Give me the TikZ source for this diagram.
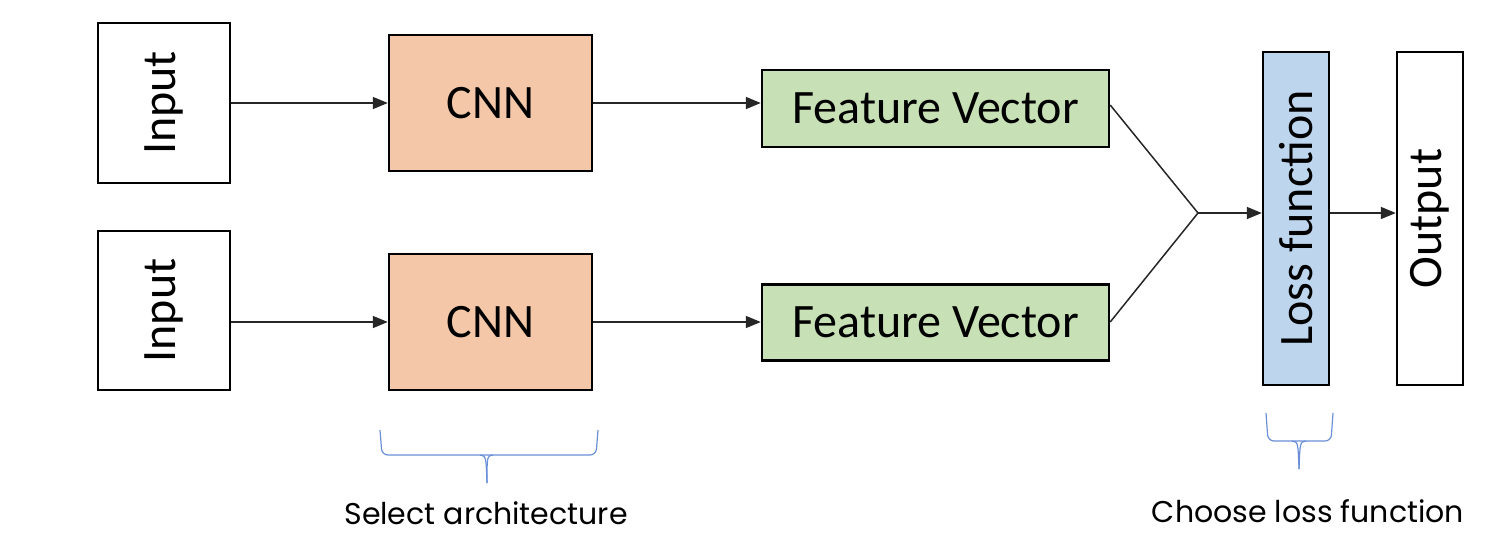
\documentclass[tikz,border=0pt]{standalone}
\usepackage{fontspec}
\setmainfont{Carlito}
\newfontfamily\capfont{Poppins}
\usetikzlibrary{arrows.meta}
\definecolor{cnnfill}{HTML}{F4C7A8}
\definecolor{fvfill}{HTML}{C7E0B5}
\definecolor{lossfill}{HTML}{BDD6EE}
\definecolor{bracecol}{HTML}{6A8FD8}
\tikzset{
  box/.style={draw=black, line width=2.4pt, inner sep=0pt, font=\fontsize{48}{52}\selectfont},
  vbox/.style={box, rotate=90},
  conn/.style={line width=1.5pt, draw=black!85},
  arr/.style={conn, -{Triangle[length=15pt,width=12pt]}},
  bracep/.style={draw=bracecol, line width=1.2pt, rounded corners=6pt},
  captext/.style={font=\capfont\fontsize{30}{34}\selectfont, inner sep=0pt}
}
\begin{document}
\begin{tikzpicture}[x=1pt,y=-1pt]
\useasboundingbox (0,0) rectangle (1485,544);
% inputs (rotated: width along y)
\node[vbox, minimum width=160pt, minimum height=132pt] (in1) at (164,103) {Input};
\node[vbox, minimum width=159pt, minimum height=132pt] (in2) at (164,310.5) {Input};
% CNNs
\node[box, fill=cnnfill, minimum width=203pt, minimum height=136pt] (cnn1) at (490.5,103) {CNN};
\node[box, fill=cnnfill, minimum width=203pt, minimum height=136pt] (cnn2) at (490.5,322) {CNN};
% feature vectors
\node[box, fill=fvfill, minimum width=347pt, minimum height=77pt] (fv1) at (935.5,108.5) {Feature Vector};
\node[box, fill=fvfill, minimum width=347pt, minimum height=76pt] (fv2) at (935.5,322.5) {Feature Vector};
% loss and output
\node[vbox, fill=lossfill, minimum width=333pt, minimum height=66pt] (loss) at (1296,218.5) {Loss function};
\node[vbox, minimum width=333pt, minimum height=66pt] (out) at (1430,218.5) {Output};
% connectors
\draw[arr] (in1.south |- 0,103) -- (cnn1.west |- 0,103);
\draw[arr] (in2.south |- 0,322) -- (cnn2.west);
\draw[arr] (cnn1.east) -- (fv1.west |- 0,103);
\draw[arr] (cnn2.east) -- (fv2.west |- 0,322);
\coordinate (m) at (1198,213);
\draw[conn] (fv1.east |- 0,105) -- (m);
\draw[conn] (fv2.east |- 0,322) -- (m);
\draw[arr] (m) -- (loss.north |- m);
\draw[arr] (loss.south |- 0,213) -- (out.north |- 0,213);
% braces
\draw[bracep] (380,430) -- (382,455) -- (486,455);
\draw[bracep] (598,430) -- (596,455) -- (486,455);
\draw[draw=bracecol, line width=1.2pt] (480,455) .. controls (486,456) .. (487,483);
\draw[draw=bracecol, line width=1.2pt] (493,455) .. controls (487,456) .. (487,483);
\draw[bracep] (1266,413) -- (1268,441) -- (1299,441);
\draw[bracep] (1333,413) -- (1331,441) -- (1299,441);
\draw[draw=bracecol, line width=1.2pt] (1292,441) .. controls (1298,442) .. (1299,469);
\draw[draw=bracecol, line width=1.2pt] (1306,441) .. controls (1300,442) .. (1299,469);
% captions
\node[captext] (c1) at (486,513) {Select architecture};
\node[captext] (c2) at (1308,511) {Choose loss function};
\end{tikzpicture}
\end{document}
